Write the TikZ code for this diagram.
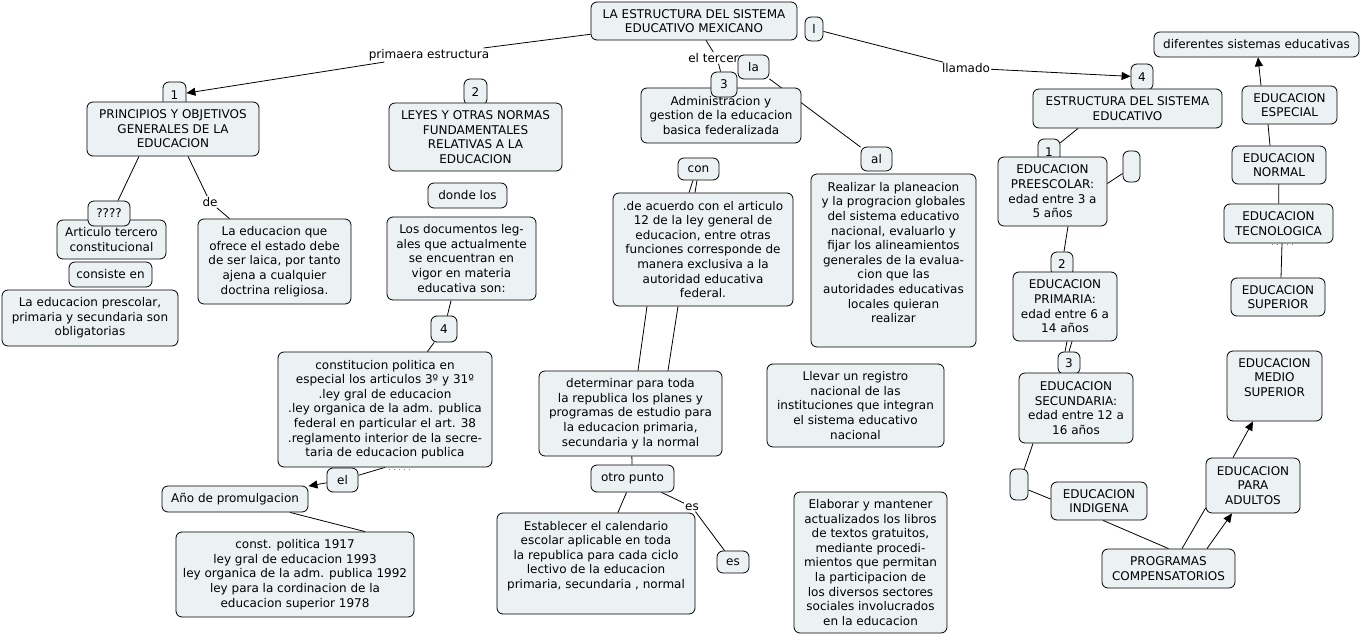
\documentclass[tikz,border=0pt]{standalone}
\usepackage{fontspec}
\setmainfont{DejaVu Sans}
\usetikzlibrary{arrows.meta,backgrounds}
\definecolor{cmapfill}{RGB}{236,242,244}

\begin{document}
\begin{tikzpicture}[x=1pt,y=-1pt,
  every node/.style={font=\fontsize{12pt}{14.6pt}\selectfont},
  box/.style={draw, rounded corners=6pt, fill=cmapfill, inner sep=0pt, align=center, line width=0.8pt},
  sz/.style 2 args={minimum width=#1pt, minimum height=#2pt},
  lbl/.style={inner sep=1pt},
  link/.style={line width=0.8pt},
  arr/.style={link, -{Triangle[length=9pt,width=8pt]}},
  hidden/.style={gray, line width=1pt, dash pattern=on 1pt off 4pt}]

\useasboundingbox (0,0) rectangle (1362,636);

% lado izquierdo
\node[box, sz={206}{38}] (main) at (694,21) {LA ESTRUCTURA DEL SISTEMA\\EDUCATIVO MEXICANO};
\node[box, sz={18}{24}] (ele) at (814,29) {l};

\node[box, sz={23}{26}] (n1) at (174.5,95) {1};
\node[box, sz={172}{54}] (princ) at (173,129) {PRINCIPIOS Y OBJETIVOS\\GENERALES DE LA\\EDUCACION};
\node[box, sz={23}{26}] (n2) at (475.5,92) {2};
\node[box, sz={173}{68}] (leyes) at (475.5,137) {LEYES Y OTRAS NORMAS\\FUNDAMENTALES\\RELATIVAS A LA\\EDUCACION};
\node[box, sz={79}{25}] (dondelos) at (467.5,195.5) {donde los};
\node[box, sz={149}{83}] (docs) at (461.5,258.5) {Los documentos leg-\\ales que actualmente\\se encuentran en\\vigor en materia\\educativa son:};

\node[box, sz={109}{39}] (articulo) at (111.5,239.5) {Articulo tercero\\constitucional};
\node[box, sz={42}{25}] (dudas) at (109,213.5) {????};
\node[box, sz={83}{25}] (consiste) at (110.5,274.5) {consiste en};
\node[box, sz={176}{56}] (obligatoria) at (90,318) {La educacion prescolar,\\primaria y secundaria son\\obligatorias};
\node[box, sz={153}{85}] (laica) at (274.5,261.5) {La educacion que\\ofrece el estado debe\\de ser laica, por tanto\\ajena a cualquier\\doctrina religiosa.};

\node[box, sz={26}{26}] (n4l) at (444,329) {4};
\node[box, sz={214}{115}] (constit) at (385,409.5) {constitucion politica en\\especial los articulos 3º y 31º\\.ley gral de educacion\\.ley organica de la adm. publica\\federal en particular el art. 38\\.reglamento interior de la secre-\\taria de educacion publica};
\node[box, sz={31}{24}] (el) at (342.5,480) {el};
\node[box, sz={146}{26}] (promulga) at (235,499) {Año de promulgacion};
\node[box, sz={238}{85}] (fechas) at (295,574.5) {const. politica 1917\\ley gral de educacion 1993\\ley organica de la adm. publica 1992\\ley para la cordinacion de la\\educacion superior 1978};

% centro
\node[lbl] (lterc) at (717,58) {el tercero};
\node[box, sz={160}{55}] (admin) at (721,115.5) {Administracion y\\gestion de la educacion\\basica federalizada};
\node[box, sz={26}{25}] (n3) at (724,84.5) {3};
\node[box, sz={31}{24}] (la) at (753.5,67) {la};
\node[box, sz={31}{24}] (al) at (876.5,159) {al};
\node[box, sz={165}{173}] (planea) at (893.5,260.5) {};
\node[align=center] (planeaT) at (893.5,252.5) {Realizar la planeacion\\y la progracion globales\\del sistema educativo\\nacional, evaluarlo y\\fijar los alineamientos\\generales de la evalua-\\cion que las\\autoridades educativas\\locales quieran\\realizar};
\node[box, sz={41}{22}] (con) at (698.5,169) {con};
\node[box, sz={180}{113}] (articulo12) at (703,249.5) {.de acuerdo con el articulo\\12 de la ley general de\\educacion, entre otras\\funciones corresponde de\\manera exclusiva a la\\autoridad educativa\\federal.};
\node[box, sz={183}{85}] (planes) at (630.5,413.5) {determinar para toda\\la republica los planes y\\programas de estudio para\\la educacion primaria,\\secundaria y la normal};
\node[box, sz={83}{27}] (otro) at (632.5,478.5) {otro punto};
\node[box, sz={198}{101}] (calendario) at (596,563.5) {};
\node[align=center] (calendarioT) at (596,556) {Establecer el calendario\\escolar aplicable en toda\\la republica para cada ciclo\\lectivo de la educacion\\primaria, secundaria , normal};
\node[box, sz={32}{22}] (es) at (733,562) {es};
\node[box, sz={177}{83}] (registro) at (855.5,405.5) {Llevar un registro\\nacional de las\\instituciones que integran\\el sistema educativo\\nacional};
\node[box, sz={153}{141}] (libros) at (870.5,562.5) {Elaborar y mantener\\actualizados los libros\\de textos gratuitos,\\mediante procedi-\\mientos que permitan\\la participacion de\\los diversos sectores\\sociales involucrados\\en la educacion};

% lado derecho
\node[box, sz={205}{25}] (diferentes) at (1256.5,44.5) {diferentes sistemas educativas};
\node[box, sz={22}{26}] (n4r) at (1142,77) {4};
\node[box, sz={189}{39}] (estructura) at (1127.5,108.5) {ESTRUCTURA DEL SISTEMA\\EDUCATIVO};
\node[box, sz={22}{26}] (n1r) at (1049,152) {1};
\node[box, sz={109}{69}] (pre) at (1052.5,191.5) {EDUCACION\\PREESCOLAR:\\edad entre 3 a\\5 años};
\node[box, sz={17}{31}] (vacioA) at (1131.5,166.5) {};
\node[box, sz={22}{24}] (n2r) at (1062,264) {2};
\node[box, sz={104}{69}] (prim) at (1065,306.5) {EDUCACION\\PRIMARIA:\\edad entre 6 a\\14 años};
\node[box, sz={22}{22}] (n3r) at (1069,363) {3};
\node[box, sz={114}{70}] (secu) at (1076,408) {EDUCACION\\SECUNDARIA:\\edad entre 12 a\\16 años};
\node[box, sz={18}{31}] (vacioB) at (1019,484.5) {};
\node[box, sz={96}{38}] (indigena) at (1099,501) {EDUCACION\\INDIGENA};
\node[box, sz={133}{39}] (compens) at (1168.5,568.5) {PROGRAMAS\\COMPENSATORIOS};
\node[box, sz={94}{55}] (adultos) at (1253,485.5) {EDUCACION\\PARA\\ADULTOS};
\node[box, sz={95}{70}] (medio) at (1274.5,386) {};
\node[align=center] (medioT) at (1274.5,377.5) {EDUCACION\\MEDIO\\SUPERIOR};
\node[box, sz={95}{38}] (especial) at (1289.5,105) {EDUCACION\\ESPECIAL};
\node[box, sz={94}{38}] (normal) at (1279,165) {EDUCACION\\NORMAL};
\node[box, sz={109}{39}] (tecno) at (1278.5,223.5) {EDUCACION\\TECNOLOGICA};
\node[box, sz={94}{38}] (superior) at (1278,297) {EDUCACION\\SUPERIOR};

% frases de enlace
\node[lbl] (lprim) at (429,55) {primaera estructura};
\node[lbl] (llam) at (966,68) {llamado};
\node[lbl] (lde) at (210,202) {de};
\node[lbl] (les) at (692,507) {es};

\draw[hidden] (389,469) -- (411,469);
\draw[hidden] (1272,245) -- (1294,245);

\begin{scope}[on background layer]
\draw[link] (main) -- (lprim);
\draw[arr] (lprim) -- (n1);
\draw[link] (main) -- (lterc);
\draw[link] (lterc) -- (n3);
\draw[link] (ele) -- (llam);
\draw[arr] (llam) -- (n4r);
\draw[link] (n4r) -- (estructura);

\draw[link] ([xshift=-34pt]princ.south) -- ([xshift=9pt]dudas.north);
\draw[link] ([xshift=15pt]princ.south) -- (lde);
\draw[link] (lde) -- ([xshift=-45pt]laica.north);
\draw[link] (docs) -- (n4l);
\draw[link] (n4l) -- (constit);
\draw[link] (constit.south) -- (el);
\draw[arr] (el) -- (promulga);
\draw[link] ([xshift=55pt]promulga.south) -- ([xshift=70pt]fechas.north);

\draw[link] (la) -- (al);
\draw[link] ([xshift=-5.5pt]con.south) -- ([xshift=-14pt]articulo12.north);
\draw[link] ([xshift=-1.5pt]con.south) -- ([xshift=-8pt]articulo12.north);
\draw[link] ([xshift=-56pt]articulo12.south) -- ([xshift=7.5pt]planes.north);
\draw[link] ([xshift=-25pt]articulo12.south) -- ([xshift=37.5pt]planes.north);
\draw[link] (planes) -- (otro);
\draw[link] (otro) -- (calendario);
\draw[link] (otro) -- (les);
\draw[link] (les) -- (es);

\draw[link] ([xshift=-49.5pt]estructura.south) -- (n1r);
\draw[link] ([yshift=8pt]pre.east) -- ([yshift=-7pt]vacioA.west);
\draw[link] ([xshift=15.5pt]pre.south) -- (n2r);
\draw[link] ([xshift=2pt]prim.south) -- ([xshift=-4pt]n3r.north);
\draw[link] ([xshift=7pt]prim.south) -- (n3r.north);
\draw[link] ([xshift=-43pt]secu.south) -- (vacioB);
\draw[link] ([yshift=-5.5pt]vacioB.east) -- ([yshift=2pt]indigena.west);
\draw[link] ([xshift=4pt]indigena.south) -- (compens.north);
\draw[link] ([xshift=13.5pt]compens.north) -- ([yshift=-22.5pt]adultos.west);
\draw[arr] ([xshift=38.5pt]compens.north) -- ([xshift=-21pt]adultos.south);
\draw[arr] ([xshift=-20pt]adultos.north) -- ([xshift=-21.5pt]medio.south);
\draw[arr] ([xshift=-28.5pt]especial.north) -- ([xshift=1.5pt]diferentes.south);
\draw[link] ([xshift=-21.5pt]especial.south) -- ([xshift=-9pt]normal.north);
\draw[link] (normal) -- (tecno);
\draw[link] ([xshift=3.5pt]tecno.south) -- ([xshift=3pt]superior.north);
\end{scope}
\end{tikzpicture}
\end{document}
